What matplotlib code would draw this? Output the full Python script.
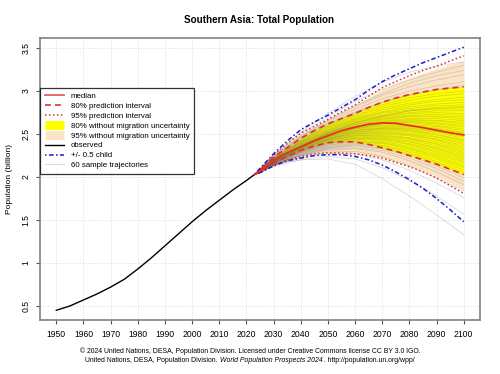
import matplotlib
matplotlib.use("Agg")
import matplotlib.pyplot as plt
from matplotlib.lines import Line2D

plt.rcParams['font.family'] = ['Liberation Sans', 'DejaVu Sans']

title = "Southern Asia: Total Population"
ylabel = "Population (billion)"
footer1 = "\u00a9 2024 United Nations, DESA, Population Division. Licensed under Creative Commons license CC BY 3.0 IGO."
footer2a = "United Nations, DESA, Population Division. "
footer2b = "World Population Prospects 2024"
footer2c = " . http://population.un.org/wpp/"

obs_years = [1950, 1955, 1960, 1965, 1970, 1975, 1980, 1985, 1990, 1995,
             2000, 2005, 2010, 2015, 2020, 2023]
obs_vals = [0.45, 0.50, 0.57, 0.64, 0.72, 0.81, 0.93, 1.06, 1.20, 1.34,
            1.48, 1.61, 1.73, 1.85, 1.96, 2.03]

proj_years = [2023, 2025, 2030, 2035, 2040, 2045, 2050, 2055, 2060, 2065,
              2070, 2075, 2080, 2085, 2090, 2095, 2100]
median = [2.03, 2.07, 2.20, 2.28, 2.35, 2.42, 2.48, 2.54, 2.58, 2.615,
          2.63, 2.625, 2.60, 2.575, 2.545, 2.515, 2.49]
pi80_up = [2.03, 2.08, 2.23, 2.34, 2.45, 2.54, 2.62, 2.68, 2.74, 2.81,
           2.87, 2.92, 2.96, 2.99, 3.02, 3.035, 3.05]
pi80_lo = [2.03, 2.06, 2.16, 2.24, 2.31, 2.36, 2.40, 2.41, 2.41, 2.38,
           2.34, 2.30, 2.25, 2.20, 2.15, 2.09, 2.03]
pi95_up = [2.03, 2.09, 2.25, 2.39, 2.51, 2.59, 2.67, 2.76, 2.84, 2.94,
           3.04, 3.11, 3.18, 3.24, 3.29, 3.35, 3.41]
pi95_lo = [2.03, 2.05, 2.14, 2.20, 2.24, 2.27, 2.28, 2.28, 2.27, 2.25,
           2.22, 2.17, 2.12, 2.06, 1.99, 1.90, 1.81]
child_up = [2.03, 2.10, 2.27, 2.42, 2.55, 2.64, 2.72, 2.81, 2.90, 3.01,
            3.11, 3.19, 3.26, 3.33, 3.39, 3.45, 3.51]
child_lo = [2.03, 2.05, 2.13, 2.19, 2.22, 2.25, 2.26, 2.26, 2.24, 2.20,
            2.14, 2.06, 1.97, 1.87, 1.75, 1.62, 1.48]
nomig80_up = [2.03, 2.08, 2.23, 2.34, 2.45, 2.54, 2.62, 2.68, 2.74, 2.81,
              2.87, 2.92, 2.96, 2.99, 3.02, 3.035, 3.05]
nomig80_lo = [2.03, 2.06, 2.16, 2.24, 2.31, 2.36, 2.40, 2.41, 2.41, 2.38,
              2.34, 2.30, 2.25, 2.20, 2.15, 2.09, 2.03]
nomig95_up = [2.03, 2.09, 2.245, 2.385, 2.50, 2.585, 2.665, 2.75, 2.83, 2.925,
              3.02, 3.09, 3.15, 3.21, 3.26, 3.31, 3.35]
nomig95_lo = [2.03, 2.05, 2.145, 2.205, 2.245, 2.275, 2.285, 2.285, 2.275, 2.255,
              2.225, 2.18, 2.13, 2.075, 2.01, 1.93, 1.85]

traj_years = [2023, 2030, 2040, 2050, 2060, 2070, 2080, 2090, 2100]
trajectories = [
    [2.03, 2.25, 2.50, 2.70, 2.88, 3.02, 3.13, 3.22, 3.30],
    [2.03, 2.24, 2.48, 2.66, 2.82, 2.95, 3.05, 3.13, 3.19],
    [2.03, 2.23, 2.46, 2.64, 2.79, 2.91, 3.00, 3.06, 3.11],
    [2.03, 2.23, 2.45, 2.62, 2.76, 2.87, 2.95, 3.01, 3.05],
    [2.03, 2.22, 2.44, 2.61, 2.74, 2.84, 2.92, 2.97, 3.00],
    [2.03, 2.22, 2.43, 2.59, 2.72, 2.82, 2.89, 2.94, 2.97],
    [2.03, 2.22, 2.42, 2.58, 2.71, 2.80, 2.86, 2.90, 2.93],
    [2.03, 2.21, 2.41, 2.57, 2.69, 2.78, 2.84, 2.88, 2.90],
    [2.03, 2.21, 2.41, 2.56, 2.68, 2.76, 2.82, 2.85, 2.87],
    [2.03, 2.21, 2.40, 2.55, 2.67, 2.75, 2.80, 2.83, 2.84],
    [2.03, 2.21, 2.40, 2.54, 2.66, 2.74, 2.78, 2.81, 2.82],
    [2.03, 2.20, 2.39, 2.54, 2.65, 2.72, 2.77, 2.79, 2.79],
    [2.03, 2.20, 2.39, 2.53, 2.64, 2.71, 2.75, 2.77, 2.77],
    [2.03, 2.20, 2.38, 2.52, 2.63, 2.70, 2.74, 2.75, 2.74],
    [2.03, 2.20, 2.38, 2.52, 2.62, 2.69, 2.72, 2.73, 2.72],
    [2.03, 2.20, 2.37, 2.51, 2.61, 2.68, 2.71, 2.71, 2.70],
    [2.03, 2.20, 2.37, 2.51, 2.61, 2.67, 2.70, 2.70, 2.68],
    [2.03, 2.19, 2.37, 2.50, 2.60, 2.66, 2.68, 2.68, 2.66],
    [2.03, 2.19, 2.36, 2.50, 2.59, 2.65, 2.67, 2.66, 2.64],
    [2.03, 2.19, 2.36, 2.49, 2.59, 2.64, 2.66, 2.65, 2.62],
    [2.03, 2.19, 2.36, 2.49, 2.58, 2.63, 2.65, 2.63, 2.60],
    [2.03, 2.19, 2.35, 2.48, 2.57, 2.62, 2.64, 2.62, 2.58],
    [2.03, 2.19, 2.35, 2.48, 2.57, 2.62, 2.63, 2.60, 2.56],
    [2.03, 2.19, 2.35, 2.47, 2.56, 2.61, 2.61, 2.59, 2.54],
    [2.03, 2.18, 2.34, 2.47, 2.56, 2.60, 2.60, 2.57, 2.52],
    [2.03, 2.18, 2.34, 2.46, 2.55, 2.59, 2.59, 2.56, 2.51],
    [2.03, 2.18, 2.34, 2.46, 2.54, 2.58, 2.58, 2.54, 2.49],
    [2.03, 2.18, 2.33, 2.45, 2.54, 2.57, 2.57, 2.53, 2.47],
    [2.03, 2.18, 2.33, 2.45, 2.53, 2.57, 2.56, 2.52, 2.45],
    [2.03, 2.18, 2.33, 2.44, 2.52, 2.56, 2.55, 2.50, 2.43],
    [2.03, 2.18, 2.33, 2.44, 2.52, 2.55, 2.54, 2.49, 2.42],
    [2.03, 2.17, 2.32, 2.44, 2.51, 2.54, 2.53, 2.47, 2.40],
    [2.03, 2.17, 2.32, 2.43, 2.50, 2.53, 2.51, 2.46, 2.38],
    [2.03, 2.17, 2.32, 2.43, 2.50, 2.52, 2.50, 2.44, 2.36],
    [2.03, 2.17, 2.31, 2.42, 2.49, 2.51, 2.49, 2.43, 2.34],
    [2.03, 2.17, 2.31, 2.42, 2.48, 2.50, 2.48, 2.41, 2.32],
    [2.03, 2.17, 2.31, 2.41, 2.48, 2.49, 2.46, 2.39, 2.30],
    [2.03, 2.17, 2.30, 2.41, 2.47, 2.48, 2.45, 2.38, 2.28],
    [2.03, 2.16, 2.30, 2.40, 2.46, 2.47, 2.44, 2.36, 2.26],
    [2.03, 2.16, 2.30, 2.40, 2.45, 2.46, 2.42, 2.34, 2.24],
    [2.03, 2.16, 2.29, 2.39, 2.45, 2.45, 2.41, 2.33, 2.22],
    [2.03, 2.16, 2.29, 2.39, 2.44, 2.44, 2.39, 2.31, 2.20],
    [2.03, 2.16, 2.29, 2.38, 2.43, 2.43, 2.38, 2.29, 2.18],
    [2.03, 2.16, 2.28, 2.37, 2.42, 2.41, 2.36, 2.27, 2.16],
    [2.03, 2.15, 2.28, 2.37, 2.41, 2.40, 2.34, 2.25, 2.13],
    [2.03, 2.15, 2.27, 2.36, 2.40, 2.39, 2.33, 2.23, 2.11],
    [2.03, 2.15, 2.27, 2.35, 2.39, 2.37, 2.31, 2.21, 2.08],
    [2.03, 2.15, 2.26, 2.34, 2.38, 2.36, 2.29, 2.18, 2.05],
    [2.03, 2.14, 2.26, 2.34, 2.37, 2.34, 2.27, 2.16, 2.02],
    [2.03, 2.14, 2.25, 2.33, 2.36, 2.33, 2.25, 2.13, 1.99],
    [2.03, 2.14, 2.25, 2.32, 2.34, 2.31, 2.22, 2.10, 1.95],
    [2.03, 2.14, 2.24, 2.31, 2.33, 2.29, 2.19, 2.06, 1.91],
    [2.03, 2.13, 2.23, 2.29, 2.30, 2.24, 2.13, 1.99, 1.84],
    [2.03, 2.13, 2.22, 2.27, 2.27, 2.20, 2.08, 1.93, 1.76],
    [2.03, 2.12, 2.20, 2.24, 2.21, 2.11, 1.96, 1.78, 1.57],
    [2.03, 2.15, 2.20, 2.21, 2.15, 1.98, 1.78, 1.56, 1.33],
    [2.03, 2.26, 2.52, 2.74, 2.94, 3.10, 3.22, 3.29, 3.34],
    [2.03, 2.24, 2.47, 2.66, 2.83, 2.97, 3.09, 3.18, 3.24],
    [2.03, 2.21, 2.42, 2.60, 2.75, 2.87, 2.96, 3.02, 3.07],
    [2.03, 2.18, 2.36, 2.51, 2.63, 2.71, 2.77, 2.80, 2.81],
]

xticks = list(range(1950, 2101, 10))
yticks = [0.5, 1.0, 1.5, 2.0, 2.5, 3.0, 3.5]
yticklabels = ["0.5", "1", "1.5", "2", "2.5", "3", "3.5"]

legend_labels = ["median", "80% prediction interval", "95% prediction interval",
                 "80% without migration uncertainty", "95% without migration uncertainty",
                 "observed", "+/- 0.5 child", "60 sample trajectories"]

PEACH = "#fbe4c6"
YELLOW = "#ffff00"
RED = "#e03030"
BLUE = "#1a1acd"

fig = plt.figure(figsize=(5.0, 3.74), dpi=100)
ax = fig.add_axes([0.08, 0.1444, 0.88, 0.7536])

ax.fill_between(proj_years, nomig95_lo, nomig95_up, color=PEACH, lw=0, zorder=1)
ax.fill_between(proj_years, nomig80_lo, nomig80_up, color=YELLOW, lw=0, zorder=2)
for tr in trajectories:
    ax.plot(traj_years, tr, color="#5a5a5a", alpha=0.24, lw=0.55, zorder=3)
ax.plot(obs_years, obs_vals, color="black", lw=1.0, zorder=5)
ax.plot(proj_years, pi95_up, color=RED, lw=1.1, ls=(0, (1, 1.6)), zorder=6)
ax.plot(proj_years, pi95_lo, color=RED, lw=1.1, ls=(0, (1, 1.6)), zorder=6)
ax.plot(proj_years, pi80_up, color=RED, lw=1.2, ls=(0, (3.5, 2.5)), zorder=6)
ax.plot(proj_years, pi80_lo, color=RED, lw=1.2, ls=(0, (3.5, 2.5)), zorder=6)
ax.plot(proj_years, child_up, color=BLUE, lw=1.1, ls=(0, (1, 1.6, 3, 1.6)), zorder=6)
ax.plot(proj_years, child_lo, color=BLUE, lw=1.1, ls=(0, (1, 1.6, 3, 1.6)), zorder=6)
ax.plot(proj_years, median, color="#e8311a", lw=1.3, zorder=7)

ax.set_xlim(1944, 2106)
ax.set_ylim(0.337, 3.616)
ax.set_xticks(xticks)
ax.set_xticklabels([str(x) for x in xticks], fontsize=6.2)
ax.set_yticks(yticks)
ax.set_yticklabels(yticklabels, fontsize=6.2, rotation=90, va="center")
ax.tick_params(axis="both", length=3, width=0.8, color="#555555", pad=4)
ax.grid(True, color="#d0d0d0", lw=0.6, ls=(0, (1, 2)))
ax.set_axisbelow(True)
for s in ax.spines.values():
    s.set_color("#777777")
    s.set_linewidth(1.1)

ax.set_ylabel(ylabel, fontsize=6.0, labelpad=6)
fig.text(0.519, 0.946, title, ha="center", va="center", fontsize=7.1, fontweight="bold")

handles = [
    Line2D([], [], color="#e06060", lw=1.3),
    Line2D([], [], color=RED, lw=1.2, ls=(0, (3.5, 2.5))),
    Line2D([], [], color=RED, lw=1.1, ls=(0, (1, 1.6))),
    Line2D([], [], color=YELLOW, lw=6.5, solid_capstyle="butt"),
    Line2D([], [], color=PEACH, lw=6.5, solid_capstyle="butt"),
    Line2D([], [], color="black", lw=1.0),
    Line2D([], [], color=BLUE, lw=1.1, ls=(0, (1, 1.6, 3, 1.6))),
    Line2D([], [], color="#dddddd", lw=0.8),
]
leg = ax.legend(handles, legend_labels, loc="upper left", bbox_to_anchor=(0.0, 0.823),
                fontsize=5.65, frameon=True, fancybox=False, borderaxespad=0,
                labelspacing=0.3, handlelength=2.5, handletextpad=0.8,
                borderpad=0.6)
leg.get_frame().set_edgecolor("black")
leg.get_frame().set_linewidth(0.9)
leg.set_zorder(10)

fig.text(0.5, 0.062, footer1, ha="center", va="center", fontsize=4.95)
renderer = fig.canvas.get_renderer()
parts = [(footer2a, "normal"), (footer2b, "italic"), (footer2c, "normal")]
widths = []
texts = []
for s, st in parts:
    t = fig.text(0, 0.037, s, ha="left", va="center", fontsize=4.95, style=st)
    texts.append(t)
    widths.append(t.get_window_extent(renderer).width / fig.bbox.width)
total = sum(widths)
x0 = 0.5 - total / 2
for t, w in zip(texts, widths):
    t.set_x(x0)
    x0 += w

fig.savefig("out.png", dpi=100)
